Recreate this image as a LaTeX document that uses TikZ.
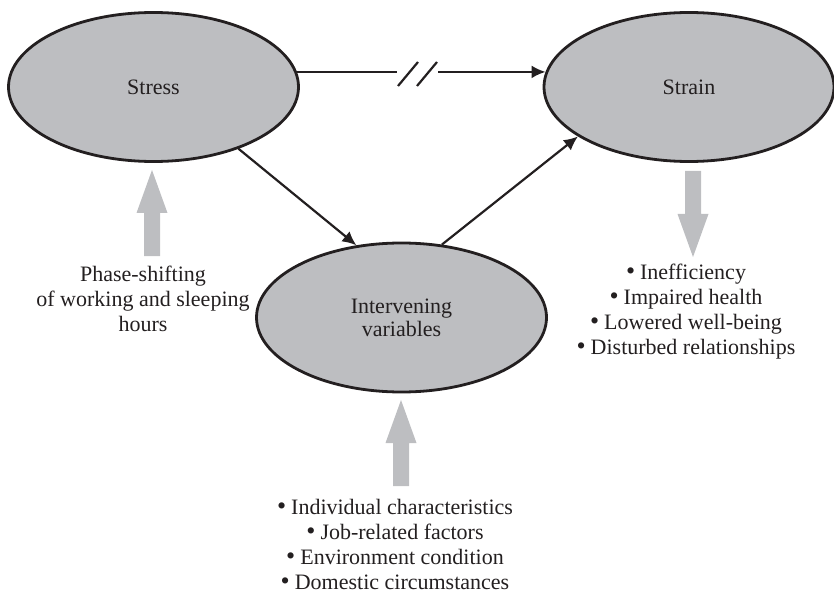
\documentclass[tikz,border=0pt]{standalone}
\usepackage{fontspec}
\setmainfont{Liberation Serif}
\usetikzlibrary{arrows.meta,positioning,shapes.geometric}
\definecolor{ovalgray}{RGB}{189,190,193}
\definecolor{inkgray}{RGB}{35,31,32}
\tikzset{
	state/.style={ellipse, draw=inkgray, line width=1.4pt, fill=ovalgray, text=inkgray, minimum width=145pt, minimum height=74.5pt, align=center, font=\fontsize{11}{11.5}\selectfont},
	link/.style={-{Latex[length=7pt,width=6.5pt]}, draw=inkgray, line width=1.1pt},
	block/.style={fill=ovalgray},
	notes/.style={align=center, anchor=base, inner sep=0pt, text=inkgray, font=\fontsize{11}{12.5}\selectfont} % base = last line
}
\newcommand{\itm}{{\fontsize{13}{13}\selectfont\textbullet}\hspace{2.5pt}}
% fat gray arrow from its tip: 1 points it up, -1 points it down
\newcommand{\blockarrow}[2]{\fill[block] (#1) -- ++(15.5,#2*43) -- ++(-7.5,0) -- ++(0,#2*43) -- ++(-16,0) -- ++(0,#2*-43) -- ++(-7.5,0) -- cycle;}

\begin{document}
\begin{tikzpicture}[x=0.5pt,y=-0.5pt]
	\useasboundingbox (0,0) rectangle (834,593);
	\node[state] (stress) at (153.5,87) {Stress};
	\node[state] (strain) at (689,87) {Strain};
	\node[state] (inter) at (401.5,317.5) {Intervening\\variables};
	% broken direct link
	\coordinate (cutL) at (397,72);
	\coordinate (cutR) at (438,72);
	\draw[link,-] (stress.6) -- (stress.6 -| cutL);
	\draw[link] (cutR |- strain.174) -- (strain.174);
	\draw[inkgray, line width=1.1pt] (398,86) -- (418,62) (417,86) -- (437,62);
	\draw[link] (stress.-36) -- (inter.122);
	\draw[link] (inter.61) -- (strain.204);
	% gray arrows
	\coordinate (upL) at (152,170);
	\coordinate (downR) at (693,257);
	\coordinate (upB) at (401,400);
	\blockarrow{upL}{1}
	\blockarrow{downR}{-1}
	\blockarrow{upB}{1}
	\node[notes] (shift) at (143,331) {Phase-shifting\\of working and sleeping\\hours};
	\node[notes] (effects) at (686,354) {\itm Inefficiency\\\itm Impaired health\\\itm Lowered well-being\\\itm Disturbed relationships};
	\node[notes] (factors) at (395,589) {\itm Individual characteristics\\\itm Job-related factors\\\itm Environment condition\\\itm Domestic circumstances};
\end{tikzpicture}
\end{document}
